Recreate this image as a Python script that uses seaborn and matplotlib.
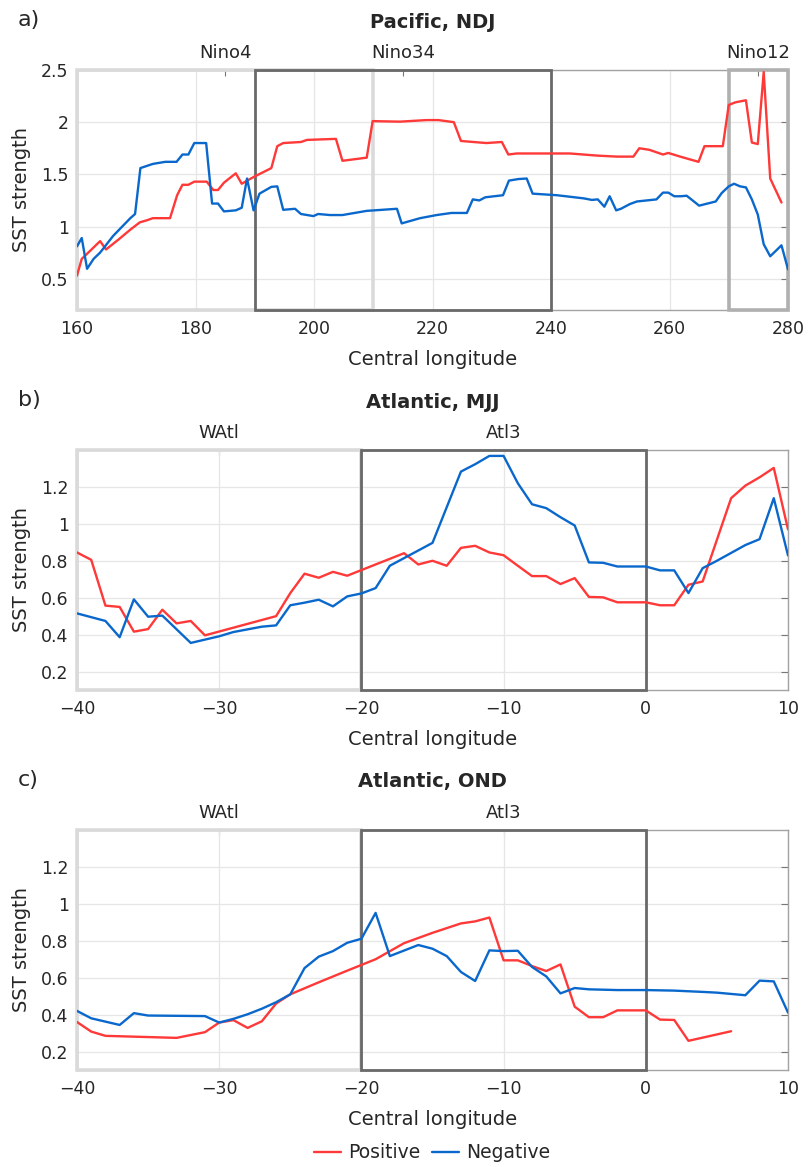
import pandas as pd
import seaborn as sns
import matplotlib.pyplot as plt
from matplotlib.patches import Rectangle
from matplotlib.lines import Line2D

# ---- values ----
# a) Pacific, NDJ
pac_lon_pos = [160, 160.8, 161.9, 163.9, 164.9, 167, 169, 170.6, 171.8, 172.8, 175.7, 176.9, 177.8,
               178.8, 179.8, 181.9, 183, 183.8, 184.8, 186.8, 187.8, 189.2, 190, 192.8, 193.8, 194.8,
               197.8, 198.8, 203.7, 204.8, 208.9, 209.9, 214.5, 219, 221, 223.6, 224.8, 226.9, 229.1,
               231.7, 232.8, 234.2, 239.8, 243.2, 247.7, 251.1, 253.9, 254.9, 256.6, 258.9, 259.8,
               261.8, 264.9, 265.9, 269, 270, 271.1, 272.9, 273.9, 274.9, 275.9, 277, 278.9]
pac_val_pos = [0.53, 0.69, 0.75, 0.86, 0.78, 0.875, 0.97, 1.04, 1.06, 1.08, 1.08, 1.30, 1.40,
               1.40, 1.43, 1.43, 1.35, 1.35, 1.42, 1.51, 1.41, 1.455, 1.48, 1.56, 1.77, 1.80,
               1.81, 1.83, 1.84, 1.63, 1.66, 2.01, 2.005, 2.02, 2.02, 2.0, 1.82, 1.81, 1.80,
               1.81, 1.69, 1.70, 1.70, 1.70, 1.68, 1.67, 1.67, 1.75, 1.735, 1.69, 1.705,
               1.67, 1.62, 1.77, 1.77, 2.165, 2.19, 2.21, 1.805, 1.79, 2.48, 1.46, 1.23]
pac_lon_neg = [160, 160.8, 161.7, 162.8, 163.9, 166.1, 169, 169.8, 170.7, 172.8, 174.9, 176.8, 177.8,
               178.8, 179.8, 181.8, 182.8, 183.8, 184.8, 186.8, 187.8, 188.7, 189.8, 190.8, 192.8,
               193.8, 194.8, 196.8, 197.8, 199.9, 200.7, 202.7, 204.8, 208.9, 214, 214.8, 217.9,
               220.7, 223.2, 225.8, 226.8, 227.9, 228.9, 231.9, 232.9, 234.5, 235.9, 236.9, 241,
               245.5, 246.9, 247.9, 249, 249.9, 251, 251.8, 253.3, 254.5, 257.8, 258.9, 259.8,
               260.8, 261.9, 262.9, 263.9, 265, 267.8, 268.8, 270, 270.9, 271.9, 272.9, 273.9,
               274.9, 275.9, 277, 278, 278.9, 280]
pac_val_neg = [0.81, 0.89, 0.595, 0.69, 0.75, 0.91, 1.08, 1.12, 1.56, 1.60, 1.62, 1.62, 1.69,
               1.69, 1.80, 1.80, 1.22, 1.22, 1.145, 1.155, 1.18, 1.46, 1.155, 1.315, 1.38,
               1.385, 1.16, 1.17, 1.12, 1.10, 1.12, 1.11, 1.11, 1.15, 1.17, 1.03, 1.08,
               1.11, 1.13, 1.13, 1.26, 1.25, 1.28, 1.30, 1.44, 1.455, 1.46, 1.315, 1.30,
               1.27, 1.255, 1.26, 1.19, 1.29, 1.155, 1.17, 1.215, 1.24, 1.26, 1.325, 1.325,
               1.29, 1.29, 1.295, 1.25, 1.20, 1.24, 1.32, 1.385, 1.41, 1.385, 1.375, 1.26,
               1.115, 0.83, 0.715, 0.77, 0.82, 0.59]

# b) Atlantic, MJJ
mjj_lon_pos = [-40, -39, -38, -37, -36, -35, -34, -33, -32, -31, -26, -25, -24, -23, -22, -21,
               -17, -16, -15, -14, -13, -12, -11, -10, -9, -8, -7, -6, -5, -4, -3, -2, 0, 1, 2,
               3, 4, 6, 7, 8, 9, 10]
mjj_val_pos = [0.845, 0.805, 0.557, 0.55, 0.416, 0.43, 0.535, 0.461, 0.474, 0.396, 0.50, 0.625,
               0.73, 0.708, 0.74, 0.719, 0.841, 0.78, 0.80, 0.773, 0.87, 0.881, 0.845, 0.83,
               0.773, 0.717, 0.717, 0.674, 0.706, 0.604, 0.602, 0.575, 0.575, 0.559, 0.559,
               0.67, 0.688, 1.139, 1.207, 1.252, 1.303, 0.97]
mjj_lon_neg = [-40, -38, -37, -36, -35, -34, -32, -30, -29, -27, -26, -25, -24, -23, -22, -21,
               -20, -19, -18, -15, -14, -13, -12, -11, -10, -9, -8, -7, -6, -5, -4, -3, -2, 0,
               1, 2, 3, 4, 5, 7, 8, 9, 10]
mjj_val_neg = [0.515, 0.474, 0.386, 0.591, 0.497, 0.503, 0.355, 0.391, 0.414, 0.443, 0.45,
               0.559, 0.573, 0.589, 0.553, 0.607, 0.623, 0.652, 0.773, 0.897, 1.09, 1.283,
               1.323, 1.368, 1.368, 1.22, 1.106, 1.085, 1.036, 0.991, 0.791, 0.789, 0.769,
               0.769, 0.748, 0.748, 0.625, 0.76, 0.80, 0.885, 0.917, 1.139, 0.829]

# c) Atlantic, OND
ond_lon_pos = [-40, -39, -38, -33, -31, -30, -29, -28, -27, -26, -25, -23, -21, -19, -17, -15,
               -13, -12, -11, -10, -9, -8, -7, -6, -5, -4, -3, -2, 0, 1, 2, 3, 6]
ond_val_pos = [0.36, 0.308, 0.285, 0.274, 0.305, 0.357, 0.37, 0.328, 0.364, 0.46, 0.51, 0.575,
               0.638, 0.70, 0.787, 0.843, 0.894, 0.905, 0.926, 0.694, 0.694, 0.663, 0.636,
               0.672, 0.443, 0.386, 0.386, 0.423, 0.423, 0.373, 0.371, 0.258, 0.31]
ond_lon_neg = [-40, -39, -37, -36, -35, -31, -30, -29, -28, -27, -26, -25, -24, -23, -22, -21,
               -20, -19, -18, -16, -15, -14, -13, -12, -11, -10, -9, -8, -7, -6, -5, -4, -2, 0,
               2, 4, 5, 7, 8, 9, 10]
ond_val_neg = [0.42, 0.38, 0.344, 0.408, 0.395, 0.392, 0.357, 0.377, 0.402, 0.432, 0.467, 0.51,
               0.652, 0.714, 0.744, 0.789, 0.811, 0.951, 0.717, 0.777, 0.757, 0.717, 0.631,
               0.582, 0.748, 0.744, 0.746, 0.658, 0.607, 0.515, 0.544, 0.537, 0.533, 0.533,
               0.53, 0.523, 0.519, 0.505, 0.584, 0.58, 0.411]

# index regions
pac_regions = ['Nino4', 'Nino34', 'Nino12']
pac_bounds = [(160, 210), (190, 240), (270, 280)]
atl_regions = ['WAtl', 'Atl3']
atl_bounds = [(-40, -20), (-20, 0)]

series_names = ['Positive', 'Negative']
colors = {'Positive': '#ff3838', 'Negative': '#0a68cc'}

sns.set_style('white')
plt.rcParams['font.family'] = ['DejaVu Sans']

W, H = 810, 1167
fig = plt.figure(figsize=(W / 100, H / 100), dpi=100)

# panel boxes in pixels: (top, bottom)
panels = [
    dict(letter='a)', title='Pacific, NDJ', top=70, bottom=310,
         pos=(pac_lon_pos, pac_val_pos), neg=(pac_lon_neg, pac_val_neg),
         xlim=(160, 280), xticks=range(160, 281, 20), ylim=(0.2, 2.5),
         yticks=[0.5, 1, 1.5, 2, 2.5], regions=pac_regions, bounds=pac_bounds,
         box_style=[('#dadada', 2.6), ('#696969', 2.0), ('#b0b0b0', 2.6)]),
    dict(letter='b)', title='Atlantic, MJJ', top=450, bottom=690,
         pos=(mjj_lon_pos, mjj_val_pos), neg=(mjj_lon_neg, mjj_val_neg),
         xlim=(-40, 10), xticks=range(-40, 11, 10), ylim=(0.1, 1.4),
         yticks=[0.2, 0.4, 0.6, 0.8, 1, 1.2], regions=atl_regions, bounds=atl_bounds,
         box_style=[('#dadada', 2.6), ('#696969', 2.0)]),
    dict(letter='c)', title='Atlantic, OND', top=830, bottom=1070,
         pos=(ond_lon_pos, ond_val_pos), neg=(ond_lon_neg, ond_val_neg),
         xlim=(-40, 10), xticks=range(-40, 11, 10), ylim=(0.1, 1.4),
         yticks=[0.2, 0.4, 0.6, 0.8, 1, 1.2], regions=atl_regions, bounds=atl_bounds,
         box_style=[('#dadada', 2.6), ('#696969', 2.0)]),
]

left, right = 77, 788
for p in panels:
    ax = fig.add_axes([left / W, 1 - p['bottom'] / H, (right - left) / W,
                       (p['bottom'] - p['top']) / H])
    df = pd.concat([
        pd.DataFrame({'lon': p['pos'][0], 'val': p['pos'][1], 'sign': 'Positive'}),
        pd.DataFrame({'lon': p['neg'][0], 'val': p['neg'][1], 'sign': 'Negative'}),
    ])
    sns.lineplot(data=df, x='lon', y='val', hue='sign', palette=colors, estimator=None,
                 sort=False, lw=1.7, legend=False, ax=ax, zorder=3)

    ax.set_xlim(*p['xlim'])
    ax.set_ylim(*p['ylim'])
    ax.set_xticks(list(p['xticks']))
    ax.set_yticks(p['yticks'])
    ax.set_yticklabels([f'{v:g}' for v in p['yticks']])
    ax.set_axisbelow(True)
    ax.grid(True, color='#e6e6e6', lw=0.9)
    ax.tick_params(axis='both', direction='in', length=5, width=0.8, color='#777777',
                   labelcolor='#262626', labelsize=12.5, right=True, top=False)
    ax.tick_params(axis='x', pad=7)
    ax.tick_params(axis='y', pad=6)
    for s in ax.spines.values():
        s.set_color('#a3a3a3')
        s.set_linewidth(1.0)
        s.set_zorder(1.5)

    ax.set_xlabel('Central longitude', fontsize=14, color='#262626')
    ax.set_ylabel('SST strength', fontsize=14, color='#262626')
    ax.xaxis.set_label_coords(0.5, -40 / (p['bottom'] - p['top']))
    ax.yaxis.set_label_coords((31 - left) / (right - left), 0.5)

    # region boxes
    y0, y1 = p['ylim']
    for (lo, hi), (c, lw) in zip(p['bounds'], p['box_style']):
        ax.add_patch(Rectangle((lo, y0), hi - lo, y1 - y0, fill=False, ec=c, lw=lw,
                               zorder=1.8, clip_on=False))

    # region names on top axis
    sec = ax.secondary_xaxis('top')
    sec.set_xticks([(lo + hi) / 2 for lo, hi in p['bounds']], labels=p['regions'])
    sec.tick_params(direction='in', length=4, width=0.8, color='#777777',
                    labelcolor='#262626', labelsize=13, pad=6)
    sec.spines['top'].set_visible(False)

    fig.text(18 / W, 1 - (p['top'] - 50) / H, p['letter'], fontsize=16, ha='left', va='center')
    fig.text((left + right) / 2 / W, 1 - (p['top'] - 48) / H, p['title'], fontsize=14,
             fontweight='bold', ha='center', va='center')

handles = [Line2D([], [], color=colors[n], lw=1.7) for n in series_names]
fig.legend(handles, series_names, loc='center', bbox_to_anchor=(432 / W, 1 - 1153 / H),
           ncol=2, frameon=False, fontsize=13.5, handlelength=1.45, handletextpad=0.4,
           columnspacing=0.6)

fig.savefig('out.png', dpi=100)
